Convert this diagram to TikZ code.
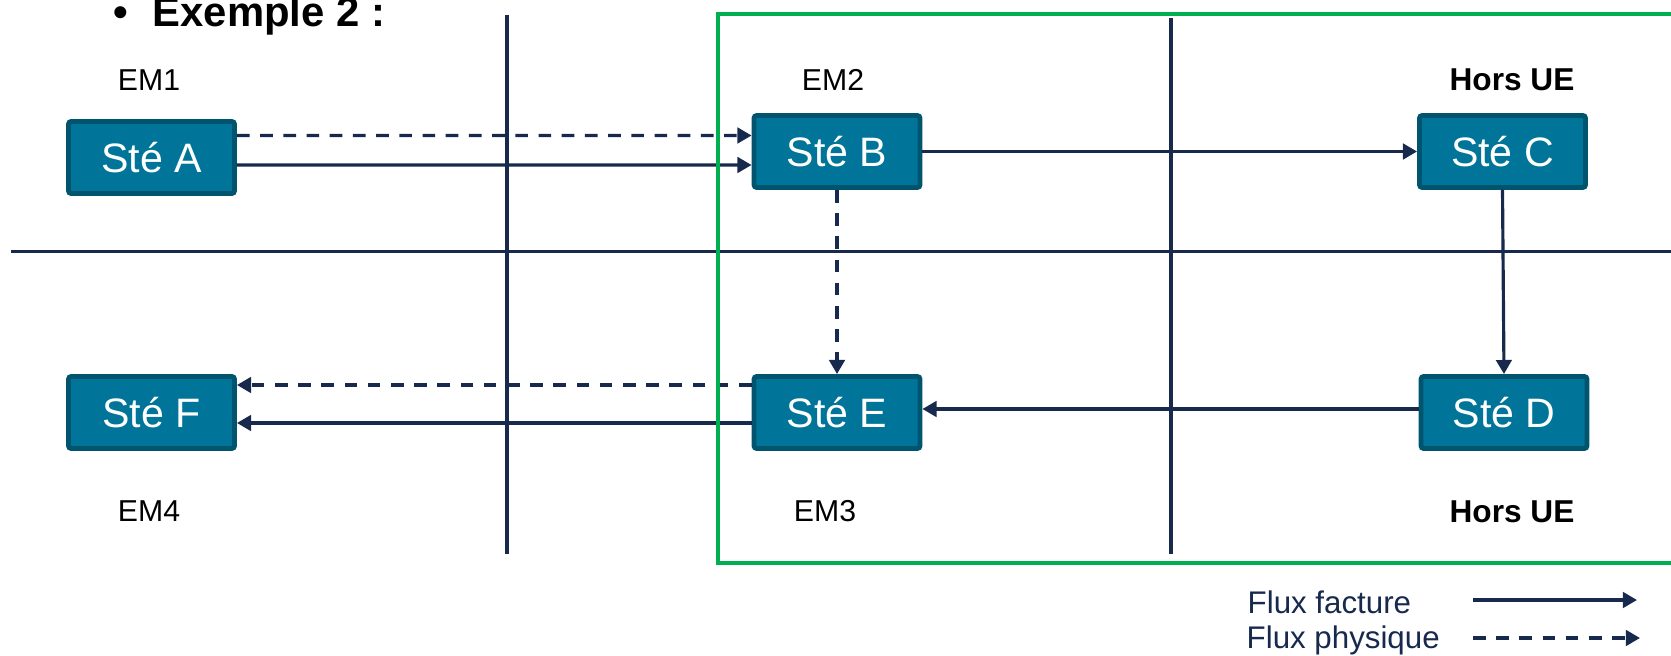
\documentclass[tikz,border=0pt]{standalone}
\usepackage{fontspec}
\setmainfont{Liberation Sans}
\usetikzlibrary{arrows.meta, positioning, calc}
\definecolor{steteal}{RGB}{0,117,153}
\definecolor{steborder}{RGB}{0,84,110}
\definecolor{navy}{RGB}{23,42,77}
\definecolor{uegreen}{RGB}{0,176,80}

\begin{document}
\begin{tikzpicture}[
    ste/.style={draw=steborder, line width=1.4pt, fill=steteal, rounded corners=0.8pt,
        minimum width=1.66cm, minimum height=0.72cm, inner sep=0pt,
        text=white, font=\fontsize{11.7}{14}\selectfont},
    em/.style={inner sep=0pt, font=\fontsize{8.6}{10}\selectfont},
    hors/.style={inner sep=0pt, font=\bfseries\fontsize{9}{11}\selectfont},
    flux/.style={navy, line width=0.9pt, -{Triangle[length=4pt, width=4.4pt]}},
    phys/.style={flux, dash pattern=on 3.6pt off 3pt},
    borne/.style={navy, line width=0.9pt}
]
\useasboundingbox (0,0) rectangle (16.71,6.55);

% Title
\node[anchor=base west, inner sep=0pt, font=\bfseries\fontsize{11.9}{14}\selectfont] (bul) at (1.13,6.28) {\textbullet};
\node[anchor=base west, inner sep=0pt, font=\bfseries\fontsize{11.9}{14}\selectfont] (titre) at (1.52,6.28) {Exemple 2 :};

% Borders between zones
\draw[borne] (5.07,6.40) -- (5.07,1.01);
\draw[borne] (11.71,6.37) -- (11.71,1.01);
\draw[borne] (0.11,4.035) -- (16.80,4.035);

% Companies
\node[ste] (A) at (1.515,4.975) {Sté A};
\node[ste] (B) at (8.37,5.035) {Sté B};
\node[ste] (C) at (15.025,5.035) {Sté C};
\node[ste] (F) at (1.515,2.425) {Sté F};
\node[ste] (E) at (8.37,2.425) {Sté E};
\node[ste] (D) at (15.04,2.425) {Sté D};

% Zone labels
\node[em] (em1) at (1.49,5.75) {EM1};
\node[em] (em2) at (8.33,5.75) {EM2};
\node[hors] (hue1) at (15.12,5.75) {Hors UE};
\node[em] (em4) at (1.49,1.435) {EM4};
\node[em] (em3) at (8.25,1.435) {EM3};
\node[hors] (hue2) at (15.12,1.435) {Hors UE};

% Flows
\draw[phys] ([yshift=2.2mm]A.east) -- ([yshift=1.6mm]B.west);
\draw[flux] ([yshift=-0.75mm]A.east) -- ([yshift=-1.35mm]B.west);
\draw[flux] (B.east) -- (C.west);
\draw[phys] (B.south) -- (E.north);
\draw[flux] (C.south) -- (D.north);
\draw[flux] ([yshift=0.35mm]D.west) -- ([yshift=0.35mm]E.east);
\draw[phys] ([yshift=2.75mm]E.west) -- ([yshift=2.75mm]F.east);
\draw[flux] ([yshift=-1.05mm]E.west) -- ([yshift=-1.05mm]F.east);

% Zone of EM2 / EM3 and beyond
\draw[uegreen, line width=1.3pt] (7.18,6.41) rectangle (17.0,0.92);

% Legend
\node[anchor=west, inner sep=0pt, text=navy, font=\fontsize{8.9}{10}\selectfont] (lfac) at (12.47,0.53) {Flux facture};
\node[anchor=west, inner sep=0pt, text=navy, font=\fontsize{8.9}{10}\selectfont] (lphy) at (12.46,0.15) {Flux physique};
\coordinate (fac1) at (14.73,0.55);
\coordinate (fac2) at (16.37,0.55);
\coordinate (phy1) at (14.73,0.17);
\coordinate (phy2) at (16.40,0.17);
\draw[flux] (fac1) -- (fac2);
\draw[phys] (phy1) -- (phy2);
\end{tikzpicture}
\end{document}
